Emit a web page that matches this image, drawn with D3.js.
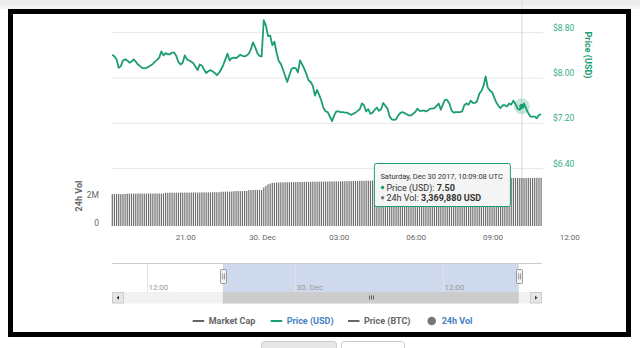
<!DOCTYPE html>
<html>
<head>
<meta charset="utf-8">
<script src="https://cdn.jsdelivr.net/npm/d3@7/dist/d3.min.js"></script>
<style>
  html, body { margin: 0; padding: 0; background: #fff; }
  svg { display: block; font-family: Roboto, "Open Sans", "DejaVu Sans", sans-serif; }
</style>
</head>
<body>
<svg id="chart" width="640" height="348"></svg>
<script>
// ---- data: 5-minute samples starting at seriesStart ----
const seriesStart = "2017-12-29T18:09:08Z";
const stepMinutes = 5;

const priceUSD = [
  8.41, 8.38, 8.33, 8.18, 8.21, 8.31, 8.33, 8.31, 8.27, 8.29,
  8.33, 8.29, 8.24, 8.21, 8.18, 8.17, 8.18, 8.20, 8.22, 8.25,
  8.29, 8.32, 8.36, 8.47, 8.40, 8.44, 8.42, 8.42, 8.45, 8.45,
  8.39, 8.28, 8.24, 8.27, 8.40, 8.33, 8.31, 8.29, 8.26, 8.20,
  8.14, 8.24, 8.22, 8.15, 8.09, 8.12, 8.14, 8.12, 8.09, 8.05,
  8.09, 8.15, 8.23, 8.33, 8.43, 8.31, 8.35, 8.36, 8.35, 8.38,
  8.41, 8.39, 8.38, 8.40, 8.43, 8.51, 8.63, 8.54, 8.44, 8.39,
  8.38, 9.02, 8.93, 8.74, 8.75, 8.58, 8.64, 8.45, 8.30, 8.25,
  8.15, 8.04, 7.93, 8.05, 8.16, 8.18, 8.17, 8.10, 8.31, 8.24,
  8.16, 8.07, 7.96, 7.93, 7.86, 7.69, 7.79, 7.70, 7.60, 7.47,
  7.41, 7.40, 7.32, 7.24, 7.34, 7.41, 7.41, 7.40, 7.40, 7.39,
  7.39, 7.37, 7.35, 7.37, 7.39, 7.42, 7.45, 7.55, 7.52, 7.41,
  7.45, 7.37, 7.39, 7.44, 7.48, 7.42, 7.45, 7.56, 7.51, 7.46,
  7.32, 7.27, 7.26, 7.27, 7.34, 7.38, 7.40, 7.38, 7.36, 7.34,
  7.34, 7.37, 7.40, 7.46, 7.42, 7.42, 7.43, 7.41, 7.43, 7.46,
  7.46, 7.47, 7.51, 7.55, 7.44, 7.54, 7.62, 7.61, 7.55, 7.43,
  7.39, 7.40, 7.40, 7.40, 7.41, 7.52, 7.55, 7.53, 7.60, 7.56,
  7.56, 7.59, 7.72, 7.77, 7.86, 8.03, 7.83, 7.78, 7.75, 7.66,
  7.57, 7.51, 7.47, 7.52, 7.52, 7.50, 7.55, 7.53, 7.60, 7.54,
  7.46, 7.44, 7.50, 7.55, 7.46, 7.38, 7.32, 7.32, 7.32, 7.29,
  7.35, 7.36
];

// 24h volume, millions of USD
const volumeM = [
  2.24, 2.24, 2.24, 2.25, 2.24, 2.24, 2.25,
  2.27, 2.27, 2.28, 2.27, 2.27, 2.28, 2.28, 2.28, 2.27, 2.28, 2.28, 2.28, 2.28, 2.29, 2.28, 2.28, 2.28, 2.29,
  2.33, 2.33, 2.34, 2.34, 2.34, 2.34, 2.34, 2.35, 2.34, 2.35, 2.35, 2.35, 2.35, 2.35, 2.36, 2.35, 2.35, 2.36,
  2.36, 2.36, 2.36, 2.36, 2.37, 2.37, 2.37, 2.37,
  2.40, 2.41, 2.41, 2.42, 2.41, 2.42, 2.44, 2.45, 2.45, 2.45, 2.45, 2.46, 2.46,
  2.52, 2.52, 2.53, 2.53, 2.53, 2.53, 2.53,
  2.70, 2.82, 2.92, 2.98, 3.02,
  3.04, 3.05, 3.05, 3.06, 3.06, 3.07, 3.07, 3.07, 3.08, 3.08, 3.08, 3.09, 3.09, 3.09, 3.10, 3.10, 3.10, 3.10,
  3.11, 3.11, 3.11, 3.11, 3.12, 3.12, 3.12, 3.12, 3.12, 3.13, 3.13, 3.13, 3.13, 3.14, 3.14, 3.14, 3.14,
  3.15, 3.15, 3.16, 3.16, 3.16, 3.17, 3.17, 3.17, 3.18, 3.18, 3.18, 3.19, 3.19, 3.19, 3.20, 3.20, 3.20, 3.21,
  3.21, 3.21, 3.22, 3.22, 3.22, 3.23, 3.23, 3.23, 3.24, 3.24, 3.24, 3.25, 3.25, 3.25, 3.26, 3.26, 3.26, 3.27,
  3.27, 3.27, 3.28, 3.28,
  3.29, 3.29, 3.30, 3.30, 3.30, 3.31, 3.31, 3.31, 3.32, 3.32, 3.32, 3.33, 3.33, 3.33, 3.33, 3.34, 3.34, 3.34,
  3.34, 3.35, 3.35, 3.35, 3.35, 3.35, 3.36, 3.36, 3.36, 3.36, 3.36, 3.36, 3.36, 3.37, 3.37, 3.37, 3.37, 3.37,
  3.37, 3.37, 3.37, 3.37, 3.37, 3.36988,
  3.37, 3.37, 3.37, 3.37, 3.37, 3.38, 3.38, 3.38, 3.38
];

const timeTicks = ["2017-12-29T21:00:00Z", "2017-12-30T00:00:00Z", "2017-12-30T03:00:00Z",
                   "2017-12-30T06:00:00Z", "2017-12-30T09:00:00Z", "2017-12-30T12:00:00Z"];
const timeTickLabels = ["21:00", "30. Dec", "03:00", "06:00", "09:00", "12:00"];

const priceTicks = [6.40, 7.20, 8.00, 8.80];
const volumeTicks = [0, 2];
const volumeTickLabels = ["0", "2M"];

const navigatorRange = ["2017-12-29T09:10:00Z", "2017-12-30T20:02:00Z"];
const navigatorTicks = ["2017-12-29T12:00:00Z", "2017-12-30T00:00:00Z", "2017-12-30T12:00:00Z"];
const navigatorTickLabels = ["12:00", "30. Dec", "12:00"];
const selectedRange = ["2017-12-29T18:09:08Z", "2017-12-30T18:09:08Z"];

const legendNames = ["Market Cap", "Price (USD)", "Price (BTC)", "24h Vol"];
const hoverIndex = 192;

// ---- styling ----
const GREEN = "#1c9e74";
const GREEN_TXT = "#35ad86";
const BLUE_TXT = "#4281c2";
const GREY_TXT = "#666";

const svg = d3.select("#chart");

const t0 = new Date(seriesStart).getTime();
const times = priceUSD.map((_, i) => new Date(t0 + i * stepMinutes * 60000));

const plotLeft = 112.3, plotRight = 541.1;
const x = d3.scaleUtc().domain([times[0], times[times.length - 1]]).range([plotLeft, plotRight]);
const yPrice = d3.scaleLinear().domain([6.4, 8.8]).range([168.7, 32.7]);
const yVol = d3.scaleLinear().domain([0, 4]).range([226, 169]);

// page strip above the framed chart
svg.append("rect").attr("x", 0).attr("y", 0).attr("width", 640).attr("height", 9).attr("fill", "#f4f4f4");
svg.append("rect").attr("x", 0).attr("y", 0).attr("width", 640).attr("height", 5).attr("fill", "#ececec");

// price gridlines
svg.append("g").selectAll("line").data(priceTicks).join("line")
  .attr("x1", 112).attr("x2", 543)
  .attr("y1", d => yPrice(d)).attr("y2", d => yPrice(d))
  .attr("stroke", "#e6e6e6").attr("stroke-width", 1);

// crosshair
const hx = x(times[hoverIndex]);
svg.append("line").attr("x1", hx).attr("x2", hx).attr("y1", 0).attr("y2", 226)
  .attr("stroke", "#d8d8d8").attr("stroke-width", 1);

// volume columns
svg.append("g").selectAll("rect").data(volumeM).join("rect")
  .attr("x", (d, i) => x(times[i]) - 0.6)
  .attr("width", 1.2)
  .attr("y", d => yVol(d))
  .attr("height", d => yVol(0) - yVol(d))
  .attr("fill", "#6e6e6e");

// price line
const line = d3.line().x((d, i) => x(times[i])).y(d => yPrice(d));
svg.append("path").datum(priceUSD).attr("d", line)
  .attr("fill", "none").attr("stroke", GREEN).attr("stroke-width", 1.8)
  .attr("stroke-linejoin", "round");

// hover marker
const hy = yPrice(priceUSD[hoverIndex]);
svg.append("circle").attr("cx", hx).attr("cy", hy).attr("r", 8).attr("fill", GREEN).attr("opacity", 0.25);
svg.append("circle").attr("cx", hx).attr("cy", hy).attr("r", 2.6).attr("fill", GREEN);

// price axis (right)
const priceAxis = svg.append("g").attr("transform", "translate(543,0)")
  .call(d3.axisRight(yPrice).tickValues(priceTicks).tickSize(0).tickPadding(10)
        .tickFormat(d => "$" + d3.format(".2f")(d)));
priceAxis.select(".domain").remove();
priceAxis.selectAll("text").attr("dy", 0).attr("y", -2.4)
  .attr("fill", GREEN_TXT).style("font-size", "8.5px").style("font-family", "Roboto, sans-serif");

svg.append("text").attr("transform", "translate(585,55) rotate(90)")
  .attr("text-anchor", "middle").attr("fill", GREEN).style("font-size", "9px").style("font-weight", "bold")
  .text("Price (USD)");

// volume axis (left)
const volAxis = svg.append("g").attr("transform", "translate(112,0)")
  .call(d3.axisLeft(yVol).tickValues(volumeTicks).tickSize(0).tickPadding(13)
        .tickFormat((d, i) => volumeTickLabels[i]));
volAxis.select(".domain").remove();
volAxis.selectAll("text").attr("dy", 0).attr("y", -0.5)
  .attr("fill", GREY_TXT).style("font-size", "8.5px").style("font-family", "Roboto, sans-serif");

svg.append("text").attr("transform", "translate(82,196) rotate(-90)")
  .attr("text-anchor", "middle").attr("fill", GREY_TXT).style("font-size", "9px").style("font-weight", "bold")
  .text("24h Vol");

// time axis
const timeAxis = svg.append("g").attr("transform", "translate(0,226)")
  .call(d3.axisBottom(x).tickValues(timeTicks.map(d => new Date(d))).tickSize(0).tickPadding(8)
        .tickFormat((d, i) => timeTickLabels[i]));
timeAxis.select(".domain").remove();
timeAxis.selectAll("text").attr("fill", GREY_TXT).style("font-size", "8px").style("font-family", "Roboto, sans-serif");

// tooltip
const tip = svg.append("g").attr("transform", `translate(${hx - 147.5},163.5)`);
tip.append("rect").attr("width", 136).attr("height", 43).attr("rx", 2)
  .attr("fill", "rgba(247,247,247,0.96)").attr("stroke", GREEN).attr("stroke-width", 1);
tip.append("text").attr("x", 6).attr("y", 15).attr("fill", "#333").style("font-size", "7.5px")
  .text(d3.utcFormat("%A, %b %d %Y, %H:%M:%S UTC")(times[hoverIndex]));
tip.append("circle").attr("cx", 8.2).attr("cy", 24).attr("r", 1.7).attr("fill", GREEN);
const t2 = tip.append("text").attr("x", 12).attr("y", 27).attr("fill", "#333").style("font-size", "9px");
t2.append("tspan").text("Price (USD): ");
t2.append("tspan").style("font-weight", "bold").text(d3.format(".2f")(priceUSD[hoverIndex]));
tip.append("circle").attr("cx", 8.2).attr("cy", 34.3).attr("r", 1.7).attr("fill", "#777");
const t3 = tip.append("text").attr("x", 12).attr("y", 37.5).attr("fill", "#333").style("font-size", "9px");
t3.append("tspan").text("24h Vol: ");
t3.append("tspan").style("font-weight", "bold").text(d3.format(",")(Math.round(volumeM[hoverIndex] * 1e6)) + " USD");

// navigator
const nx = d3.scaleUtc().domain(navigatorRange.map(d => new Date(d))).range([112, 542]);
const navTop = 263, navBottom = 292;
const s0 = nx(new Date(selectedRange[0])), s1 = nx(new Date(selectedRange[1]));
svg.append("rect").attr("x", s0).attr("y", navTop).attr("width", s1 - s0).attr("height", navBottom - navTop)
  .attr("fill", "#cfd9ed");
svg.append("g").selectAll("line").data(navigatorTicks).join("line")
  .attr("x1", d => nx(new Date(d)) + 0.5).attr("x2", d => nx(new Date(d)) + 0.5)
  .attr("y1", navTop).attr("y2", navBottom).attr("stroke", "#e3e3e3");
svg.append("g").selectAll("text").data(navigatorTicks).join("text")
  .attr("x", d => nx(new Date(d)) + 1.5).attr("y", 290)
  .attr("fill", "#999").style("font-size", "8px")
  .text((d, i) => navigatorTickLabels[i]);
svg.append("line").attr("x1", 112).attr("x2", 542).attr("y1", navTop + 0.5).attr("y2", navTop + 0.5)
  .attr("stroke", "#cccccc");

// navigator handles
[s0, s1].forEach(hxp => {
  const g = svg.append("g").attr("transform", `translate(${Math.round(hxp) + 0.5},269.5)`);
  g.append("rect").attr("x", -3).attr("y", 0).attr("width", 6).attr("height", 14).attr("rx", 1)
    .attr("fill", "#f2f2f2").attr("stroke", "#999");
  g.append("line").attr("x1", -0.8).attr("x2", -0.8).attr("y1", 4).attr("y2", 10).attr("stroke", "#999");
  g.append("line").attr("x1", 1).attr("x2", 1).attr("y1", 4).attr("y2", 10).attr("stroke", "#999");
});

// scrollbar
const sbY = 292, sbH = 11.5;
svg.append("rect").attr("x", 112).attr("y", sbY).attr("width", 430).attr("height", sbH).attr("fill", "#f2f2f2");
svg.append("rect").attr("x", s0).attr("y", sbY).attr("width", s1 - s0).attr("height", sbH).attr("fill", "#cccccc");
[369.5, 371.5, 373.5].forEach(gx => {
  svg.append("line").attr("x1", gx).attr("x2", gx).attr("y1", 295.5).attr("y2", 299.5)
    .attr("stroke", "#444").attr("stroke-width", 0.8);
});
[[112.5, -1], [530.5, 1]].forEach(([bx, dir]) => {
  svg.append("rect").attr("x", bx).attr("y", sbY + 0.5).attr("width", 11).attr("height", sbH - 1)
    .attr("fill", "#e6e6e6").attr("stroke", "#cccccc");
  const cx = bx + 5.5, cy = sbY + sbH / 2;
  svg.append("path")
    .attr("d", `M${cx + dir * 1.5},${cy} L${cx - dir * 1},${cy - 2} L${cx - dir * 1},${cy + 2} Z`)
    .attr("fill", "#333");
});

// legend
const legendY = 321;
const legendX = [192.7, 270.7, 348, 431.7];
const legendMarks = ["line", "line", "line", "dot"];
const legendMarkColors = ["#666", GREEN, "#666", "#777"];
const legendTextColors = [GREY_TXT, BLUE_TXT, GREY_TXT, BLUE_TXT];
legendNames.forEach((name, i) => {
  const lx = legendX[i];
  if (legendMarks[i] === "line") {
    svg.append("line").attr("x1", lx).attr("x2", lx + 11.5).attr("y1", legendY).attr("y2", legendY)
      .attr("stroke", legendMarkColors[i]).attr("stroke-width", 2);
    svg.append("text").attr("x", lx + 16).attr("y", legendY + 3.3)
      .attr("fill", legendTextColors[i]).style("font-size", "9px").style("font-weight", "bold").text(name);
  } else {
    svg.append("circle").attr("cx", lx).attr("cy", legendY).attr("r", 4.3).attr("fill", legendMarkColors[i]);
    svg.append("text").attr("x", lx + 10).attr("y", legendY + 3.3)
      .attr("fill", legendTextColors[i]).style("font-size", "9px").style("font-weight", "bold").text(name);
  }
});

// black frame around the chart
svg.append("rect").attr("x", 10.5).attr("y", 11.5).attr("width", 618).attr("height", 323)
  .attr("fill", "none").attr("stroke", "#000").attr("stroke-width", 5);

// page tabs below the frame
svg.append("rect").attr("x", 261.5).attr("y", 341.5).attr("width", 75).attr("height", 12).attr("rx", 3)
  .attr("fill", "#e8e8e8").attr("stroke", "#cccccc");
svg.append("rect").attr("x", 341.5).attr("y", 341.5).attr("width", 63).attr("height", 12).attr("rx", 3)
  .attr("fill", "#fff").attr("stroke", "#cccccc");
</script>
</body>
</html>
